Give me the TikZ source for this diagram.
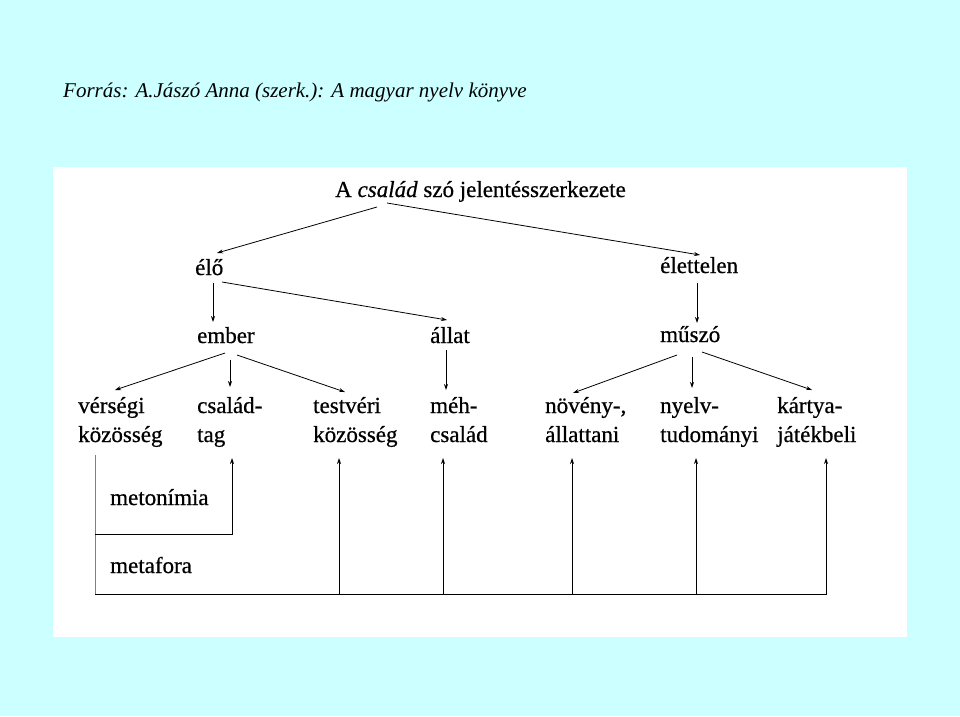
\documentclass[tikz,border=0pt]{standalone}
\usepackage{fontspec}
\setmainfont{Liberation Serif}
\newfontfamily\scanfont[FakeBold=0.6]{Liberation Serif}
\usetikzlibrary{arrows.meta,calc}
\definecolor{bgcyan}{RGB}{204,255,255}
\begin{document}
\begin{tikzpicture}[x=1pt,y=-1pt,>={Stealth[length=6pt,width=4pt]},
 word/.style={anchor=base west,inner sep=0pt,font=\scanfont\fontsize{23}{29}\selectfont},
 pair/.style={word,align=left},
 arr/.style={->,line width=0.8pt},
 rule/.style={line width=0.8pt}]
 % background and scanned sheet
 \fill[bgcyan] (0,0) rectangle (960,716);
 \fill[white] (53,167) rectangle (907,637);
 \node[anchor=base west,inner sep=0pt,font=\fontsize{21}{25}\selectfont\itshape] (source) at (63,97)
 {Forrás: A.Jászó Anna (szerk.): A magyar nyelv könyve};
 % tree
 \node[word] (title) at (335,197) {A \textit{család} szó jelentésszerkezete};
 \node[word] (elo) at (195,275) {élő};
 \node[word] (elettelen) at (660,273) {élettelen};
 \node[word] (ember) at (197,343) {ember};
 \node[word] (allat) at (430,343) {állat};
 \node[word] (muszo) at (660,342) {műszó};
 % two-line nodes: base is the second line
 \node[pair] (verseg) at (78,442) {vérségi\\közösség};
 \node[pair] (csaladtag) at (197,442) {család-\\tag};
 \node[pair] (testveri) at (313,442) {testvéri\\közösség};
 \node[pair] (meh) at (430,442) {méh-\\család};
 \node[pair] (noveny) at (545,442) {növény-,\\állattani};
 \node[pair] (nyelv) at (660,442) {nyelv-\\tudományi};
 \node[pair] (kartya) at (777,442) {kártya-\\játékbeli};
 \draw[arr] ($(title.base west)+(42,10)$) -- ($(elo.base west)+(22,-22)$);
 \draw[arr] ($(title.base west)+(52,6)$) -- ($(elettelen.base west)+(40,-18)$);
 \draw[arr] ($(elo.base west)+(18,8)$) -- ($(ember.base west)+(16,-21)$);
 \draw[arr] ($(elo.base west)+(27,7)$) -- ($(allat.base west)+(17,-23)$);
 \draw[arr] ($(elettelen.base west)+(37,10)$) -- ($(muszo.base west)+(37,-19)$);
 \draw[arr] ($(ember.base west)+(28,10)$) -- ($(verseg.base west)+(37,-52)$);
 \draw[arr] ($(ember.base west)+(33,17)$) -- ($(csaladtag.base west)+(33,-55)$);
 \draw[arr] ($(ember.base west)+(40,12)$) -- ($(testveri.base west)+(32,-50)$);
 \draw[arr] ($(allat.base west)+(16,7)$) -- ($(meh.base west)+(16,-52)$);
 \draw[arr] ($(muszo.base west)+(17,13)$) -- ($(noveny.base west)+(28,-49)$);
 \draw[arr] ($(muszo.base west)+(32,15)$) -- ($(nyelv.base west)+(32,-54)$);
 \draw[arr] ($(muszo.base west)+(42,10)$) -- ($(kartya.base west)+(35,-52)$);
 % metonimia / metafora frame
 \node[word] (metonimia) at (110,505) {metonímia};
 \node[word] (metafora) at (110,573) {metafora};
 \coordinate (frameTL) at (95,455);
 \coordinate (frameBL) at (95,594);
 \coordinate (frameBR) at (827,594);
 \coordinate (metoL) at (95,534);
 \coordinate (tag-up) at ($(csaladtag.base west)+(35,16)$);
 \draw[rule,gray] (frameTL) -- (frameBL);
 \draw[rule] (frameBL) -- (frameBR);
 \draw[arr] (metoL) -- (metoL -| tag-up) -- (tag-up);
 \foreach \n/\dx in {testveri/26,meh/13,noveny/27,nyelv/36,kartya/49}{
  \coordinate (\n-up) at ($(\n.base west)+(\dx,16)$);
  \draw[arr] (\n-up |- frameBL) -- (\n-up);
 }
\end{tikzpicture}
\end{document}
